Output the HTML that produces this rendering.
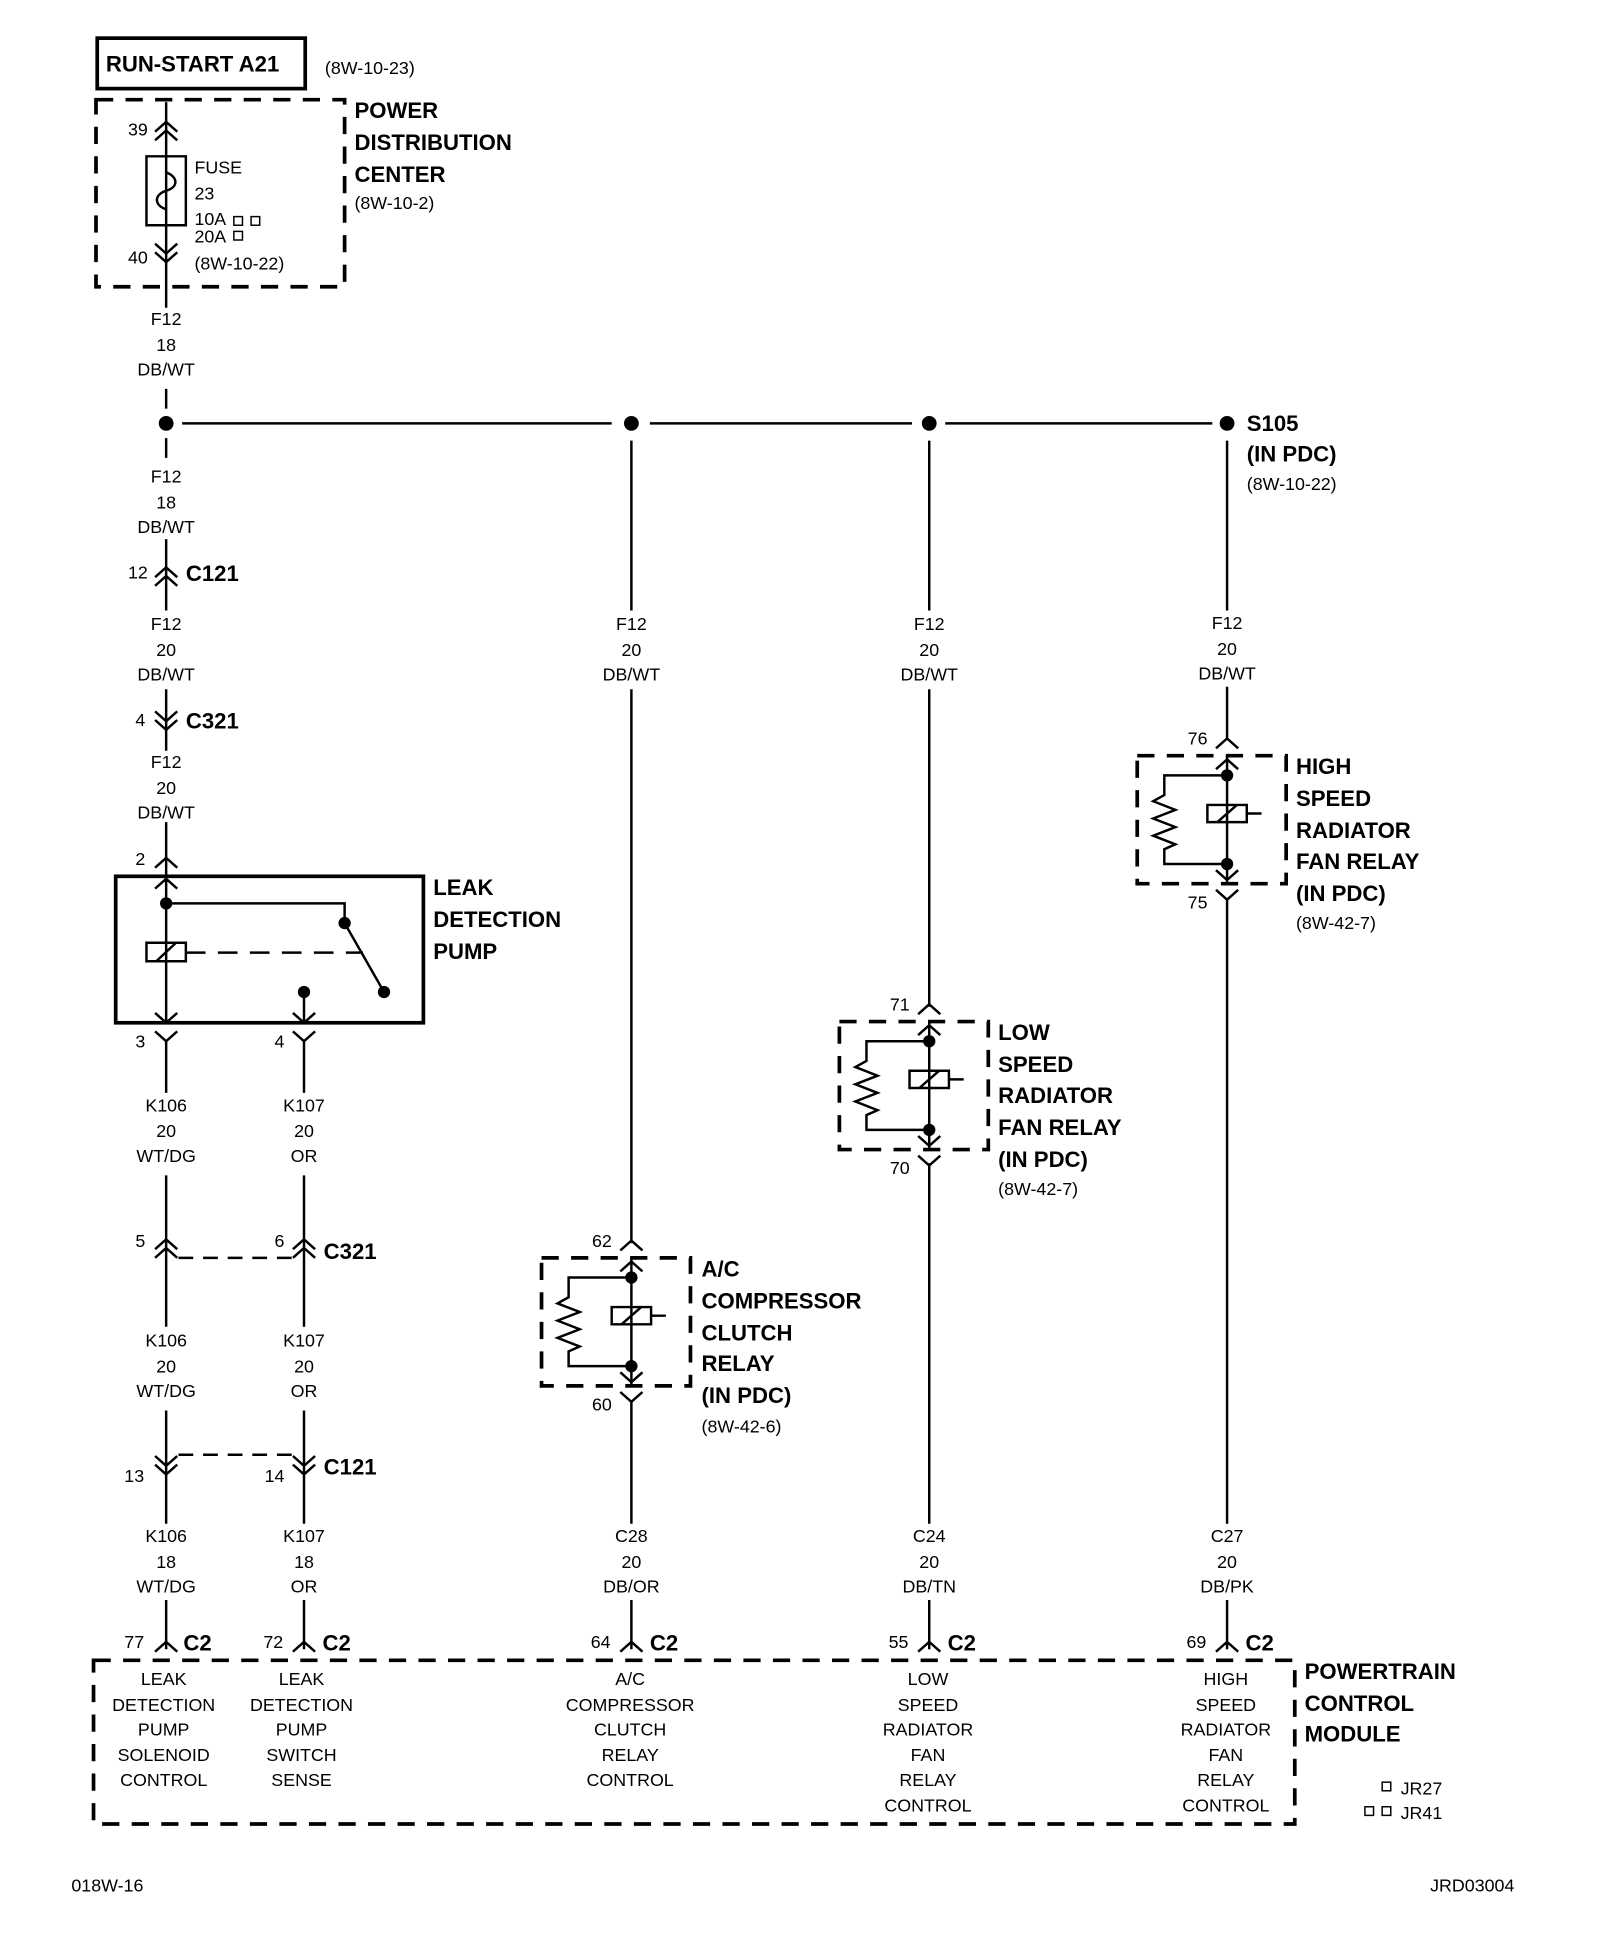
<!DOCTYPE html>
<html><head><meta charset="utf-8"><style>
html,body{margin:0;padding:0;background:#fff}
svg{display:block}
text{font-family:"Liberation Sans Narrow","Liberation Sans",sans-serif;fill:#000}
.b{font-weight:bold;font-size:18px}
.n{font-size:14.5px}
.m{font-size:14.5px;text-anchor:middle}
</style></head><body>
<svg width="1600" height="1944" viewBox="0 0 1300 1579.5" xmlns="http://www.w3.org/2000/svg">
<defs>
<g id="relay">
<path d="M-73 0H48V104H-73Z" fill="none" stroke="#000" stroke-width="3" stroke-dasharray="14 10"/>
<path d="M0 0V104M0 16H-51V32l-9 5 18 7-18 7 18 7-18 7 18 7-9 4V88H0M-16 40H16V54H-16ZM-8 54L8 40M16 47H28" fill="none" stroke="#000" stroke-width="2"/>
<circle cx="0" cy="16" r="5"/><circle cx="0" cy="88" r="5"/>
<path d="M-9 11L0 3 9 11M-9 93L0 101 9 93M-9 -6L0 -14 9 -6M-9 109L0 117 9 109" fill="none" stroke="#000" stroke-width="2"/>
</g>
</defs>
<g fill="none" stroke="#000" stroke-width="2">
<rect x="79" y="31" width="169" height="41" stroke-width="3"/>
<rect x="78" y="81" width="202" height="152" stroke-width="3" stroke-dasharray="14 10"/>
<path d="M135 83V250M119 127H151V183H119ZM135 127V140c10 4 10 12 0 15s-10 12 0 15V183"/>
<path d="M126 107L135 99 144 107M126 114L135 106 144 114M126 198L135 206 144 198M126 205L135 213 144 205"/>
<path d="M135 316V332M135 356V372M135 438V496M135 560V610M135 668V712"/>
<path d="M148 344H497M528 344H741M768 344H985"/>
<path d="M126 469L135 461 144 469M126 476L135 468 144 476M126 578L135 586 144 578M126 585L135 593 144 585M126 705L135 697 144 705"/>
<rect x="94" y="712" width="250" height="119" stroke-width="3"/>
<path d="M135 712V831M135 734H280V750L312 806M119 766H151V781H119ZM127 781L143 766M247 806V831M126 722L135 714 144 722M126 823L135 831 144 823M238 823L247 831 256 823"/>
<path d="M151 774H295" stroke-dasharray="16 10"/>
<path d="M126 838L135 846 144 838M238 838L247 846 256 838M135 846V888M247 846V888"/>
<path d="M135 955V1078M247 955V1078M126 1015L135 1007 144 1015M126 1022L135 1014 144 1022M238 1015L247 1007 256 1015M238 1022L247 1014 256 1022"/>
<path d="M145 1022H238M145 1182H238" stroke-dasharray="12 8"/>
<path d="M135 1146V1238M247 1146V1238M126 1183L135 1191 144 1183M126 1190L135 1198 144 1190M238 1183L247 1191 256 1183M238 1190L247 1198 256 1190"/>
<path d="M135 1300V1340M247 1300V1340M126 1342L135 1334 144 1342M238 1342L247 1334 256 1342"/>
<path d="M513 358V496M513 560V1010M513 1138V1238M513 1300V1340M504 1342L513 1334 522 1342"/>
<path d="M755 358V496M755 560V818M755 945V1238M755 1300V1340M746 1342L755 1334 764 1342"/>
<path d="M997 358V496M997 558V600M997 731V1238M997 1300V1340M988 1342L997 1334 1006 1342"/>
<rect x="76" y="1349" width="976" height="133" stroke-width="3" stroke-dasharray="14 10"/>
<rect x="1123" y="1448" width="7" height="7" stroke-width="1.2"/>
<rect x="1109" y="1468" width="7" height="7" stroke-width="1.2"/>
<rect x="1123" y="1468" width="7" height="7" stroke-width="1.2"/>
<rect x="190" y="176" width="7" height="7" stroke-width="1.2"/>
<rect x="204" y="176" width="7" height="7" stroke-width="1.2"/>
<rect x="190" y="188" width="7" height="7" stroke-width="1.2"/>
</g>
<circle cx="135" cy="344" r="6"/><circle cx="513" cy="344" r="6"/><circle cx="755" cy="344" r="6"/><circle cx="997" cy="344" r="6"/>
<circle cx="135" cy="734" r="5"/><circle cx="280" cy="750" r="5"/><circle cx="312" cy="806" r="5"/><circle cx="247" cy="806" r="5"/>
<use href="#relay" transform="translate(997,614)"/>
<use href="#relay" transform="translate(755,830)"/>
<use href="#relay" transform="translate(513,1022)"/>

<text class="b" x="86" y="58">RUN-START A21</text>
<text class="n" x="264" y="60">(8W-10-23)</text>
<text class="b" x="288" y="96">POWER</text>
<text class="b" x="288" y="122">DISTRIBUTION</text>
<text class="b" x="288" y="148">CENTER</text>
<text class="n" x="288" y="170">(8W-10-2)</text>
<text class="n" x="104" y="110">39</text>
<text class="n" x="104" y="214">40</text>
<text class="n" x="158" y="141">FUSE</text>
<text class="n" x="158" y="162">23</text>
<text class="n" x="158" y="183">10A</text>
<text class="n" x="158" y="197">20A</text>
<text class="n" x="158" y="219">(8W-10-22)</text>

<g>
<text class="m" x="135" y="264">F12</text><text class="m" x="135" y="285">18</text><text class="m" x="135" y="305">DB/WT</text>
<text class="m" x="135" y="392">F12</text><text class="m" x="135" y="413">18</text><text class="m" x="135" y="433">DB/WT</text>
<text class="m" x="135" y="512">F12</text><text class="m" x="135" y="533">20</text><text class="m" x="135" y="553">DB/WT</text>
<text class="m" x="135" y="624">F12</text><text class="m" x="135" y="645">20</text><text class="m" x="135" y="665">DB/WT</text>
<text class="m" x="513" y="512">F12</text><text class="m" x="513" y="533">20</text><text class="m" x="513" y="553">DB/WT</text>
<text class="m" x="755" y="512">F12</text><text class="m" x="755" y="533">20</text><text class="m" x="755" y="553">DB/WT</text>
<text class="m" x="997" y="511">F12</text><text class="m" x="997" y="532">20</text><text class="m" x="997" y="552">DB/WT</text>
<text class="m" x="135" y="903">K106</text><text class="m" x="135" y="924">20</text><text class="m" x="135" y="944">WT/DG</text>
<text class="m" x="247" y="903">K107</text><text class="m" x="247" y="924">20</text><text class="m" x="247" y="944">OR</text>
<text class="m" x="135" y="1094">K106</text><text class="m" x="135" y="1115">20</text><text class="m" x="135" y="1135">WT/DG</text>
<text class="m" x="247" y="1094">K107</text><text class="m" x="247" y="1115">20</text><text class="m" x="247" y="1135">OR</text>
<text class="m" x="135" y="1253">K106</text><text class="m" x="135" y="1274">18</text><text class="m" x="135" y="1294">WT/DG</text>
<text class="m" x="247" y="1253">K107</text><text class="m" x="247" y="1274">18</text><text class="m" x="247" y="1294">OR</text>
<text class="m" x="513" y="1253">C28</text><text class="m" x="513" y="1274">20</text><text class="m" x="513" y="1294">DB/OR</text>
<text class="m" x="755" y="1253">C24</text><text class="m" x="755" y="1274">20</text><text class="m" x="755" y="1294">DB/TN</text>
<text class="m" x="997" y="1253">C27</text><text class="m" x="997" y="1274">20</text><text class="m" x="997" y="1294">DB/PK</text>
</g>

<text class="n" x="104" y="470">12</text><text class="b" x="151" y="472">C121</text>
<text class="n" x="110" y="590">4</text><text class="b" x="151" y="592">C321</text>
<text class="n" x="110" y="703">2</text>
<text class="b" x="352" y="727">LEAK</text>
<text class="b" x="352" y="753">DETECTION</text>
<text class="b" x="352" y="779">PUMP</text>
<text class="n" x="110" y="851">3</text><text class="n" x="223" y="851">4</text>
<text class="n" x="110" y="1013">5</text><text class="n" x="223" y="1013">6</text><text class="b" x="263" y="1023">C321</text>
<text class="n" x="101" y="1204">13</text><text class="n" x="215" y="1204">14</text><text class="b" x="263" y="1198">C121</text>
<text class="n" x="101" y="1339">77</text><text class="b" x="149" y="1341">C2</text>
<text class="n" x="214" y="1339">72</text><text class="b" x="262" y="1341">C2</text>
<text class="n" x="480" y="1339">64</text><text class="b" x="528" y="1341">C2</text>
<text class="n" x="722" y="1339">55</text><text class="b" x="770" y="1341">C2</text>
<text class="n" x="964" y="1339">69</text><text class="b" x="1012" y="1341">C2</text>

<text class="b" x="1013" y="350">S105</text>
<text class="b" x="1013" y="375">(IN PDC)</text>
<text class="n" x="1013" y="398">(8W-10-22)</text>
<text class="n" x="965" y="605">76</text><text class="n" x="965" y="738">75</text>
<text class="b" x="1053" y="629">HIGH</text><text class="b" x="1053" y="655">SPEED</text><text class="b" x="1053" y="681">RADIATOR</text><text class="b" x="1053" y="706">FAN RELAY</text><text class="b" x="1053" y="732">(IN PDC)</text>
<text class="n" x="1053" y="755">(8W-42-7)</text>
<text class="n" x="723" y="821">71</text><text class="n" x="723" y="954">70</text>
<text class="b" x="811" y="845">LOW</text><text class="b" x="811" y="871">SPEED</text><text class="b" x="811" y="896">RADIATOR</text><text class="b" x="811" y="922">FAN RELAY</text><text class="b" x="811" y="948">(IN PDC)</text>
<text class="n" x="811" y="971">(8W-42-7)</text>
<text class="n" x="481" y="1013">62</text><text class="n" x="481" y="1146">60</text>
<text class="b" x="570" y="1037">A/C</text><text class="b" x="570" y="1063">COMPRESSOR</text><text class="b" x="570" y="1089">CLUTCH</text><text class="b" x="570" y="1114">RELAY</text><text class="b" x="570" y="1140">(IN PDC)</text>
<text class="n" x="570" y="1164">(8W-42-6)</text>

<g>
<text class="m" x="133" y="1369">LEAK</text><text class="m" x="133" y="1390">DETECTION</text><text class="m" x="133" y="1410">PUMP</text><text class="m" x="133" y="1431">SOLENOID</text><text class="m" x="133" y="1451">CONTROL</text>
<text class="m" x="245" y="1369">LEAK</text><text class="m" x="245" y="1390">DETECTION</text><text class="m" x="245" y="1410">PUMP</text><text class="m" x="245" y="1431">SWITCH</text><text class="m" x="245" y="1451">SENSE</text>
<text class="m" x="512" y="1369">A/C</text><text class="m" x="512" y="1390">COMPRESSOR</text><text class="m" x="512" y="1410">CLUTCH</text><text class="m" x="512" y="1431">RELAY</text><text class="m" x="512" y="1451">CONTROL</text>
<text class="m" x="754" y="1369">LOW</text><text class="m" x="754" y="1390">SPEED</text><text class="m" x="754" y="1410">RADIATOR</text><text class="m" x="754" y="1431">FAN</text><text class="m" x="754" y="1451">RELAY</text><text class="m" x="754" y="1472">CONTROL</text>
<text class="m" x="996" y="1369">HIGH</text><text class="m" x="996" y="1390">SPEED</text><text class="m" x="996" y="1410">RADIATOR</text><text class="m" x="996" y="1431">FAN</text><text class="m" x="996" y="1451">RELAY</text><text class="m" x="996" y="1472">CONTROL</text>
</g>
<text class="b" x="1060" y="1364">POWERTRAIN</text>
<text class="b" x="1060" y="1390">CONTROL</text>
<text class="b" x="1060" y="1415">MODULE</text>
<text class="n" x="1138" y="1458">JR27</text>
<text class="n" x="1138" y="1478">JR41</text>
<text class="n" x="58" y="1537">018W-16</text>
<text class="n" x="1162" y="1537">JRD03004</text>
</svg>
</body></html>
